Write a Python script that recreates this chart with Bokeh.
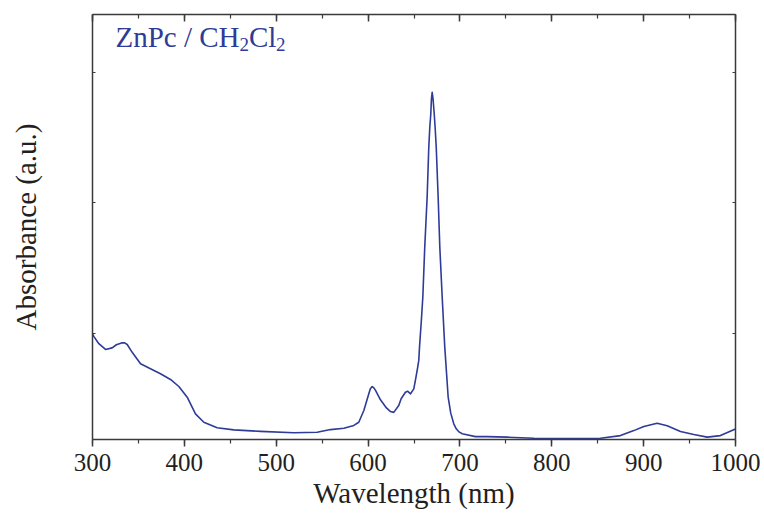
from bokeh.plotting import figure
from bokeh.models import (Range1d, LinearAxis, SingleIntervalTicker, FixedTicker,
                          Label, CustomJSTickFormatter, ColumnDataSource)
from bokeh.embed import file_html
from bokeh.resources import INLINE

# --- data ---
wavelength_nm = [297.1, 301.4, 306.9, 314.2, 321.4, 326.0, 331.6, 335.0, 337.8, 343.2,
                 352.3, 363.1, 374.0, 384.9, 394.0, 403.1, 412.1, 421.2, 435.7, 453.8,
                 482.9, 519.1, 544.6, 559.1, 573.6, 584.5, 589.9, 595.4, 600.8, 602.5,
                 604.5, 606.3, 608.1, 613.5, 620.0, 624.4, 628.0, 633.4, 636.0, 640.7,
                 643.0, 646.2, 649.8, 652.0, 654.0, 655.2, 656.0, 658.0, 659.6, 661.7,
                 664.3, 666.1, 667.2, 668.3, 669.0, 669.8, 670.7, 672.0, 673.0, 674.2,
                 676.3, 678.1, 680.7, 683.5, 687.2, 690.0, 693.3, 696.0, 699.0, 702.5,
                 716.9, 729.7, 751.4, 780.4, 816.8, 853.0, 874.8, 889.3, 900.2, 914.7,
                 925.6, 940.1, 954.6, 969.2, 983.6, 998.1, 1000.0]
absorbance = [0.518, 0.489, 0.461, 0.439, 0.445, 0.457, 0.464, 0.464, 0.458, 0.428,
              0.384, 0.365, 0.346, 0.324, 0.297, 0.256, 0.192, 0.160, 0.139, 0.131,
              0.125, 0.120, 0.122, 0.132, 0.137, 0.148, 0.160, 0.205, 0.269, 0.288,
              0.297, 0.292, 0.282, 0.246, 0.215, 0.201, 0.198, 0.224, 0.250, 0.275,
              0.279, 0.269, 0.288, 0.330, 0.370, 0.397, 0.448, 0.550, 0.639, 0.831,
              1.022, 1.214, 1.290, 1.342, 1.400, 1.424, 1.400, 1.342, 1.290, 1.214,
              1.022, 0.831, 0.639, 0.448, 0.256, 0.195, 0.154, 0.135, 0.123, 0.116,
              0.105, 0.105, 0.103, 0.099, 0.098, 0.099, 0.109, 0.128, 0.144, 0.156,
              0.147, 0.125, 0.113, 0.103, 0.109, 0.131, 0.134]
x_ticks = [300, 400, 500, 600, 700, 800, 900, 1000]
y_ticks = [0.5, 1.0, 1.5]
x_label = "Wavelength (nm)"
y_label = "Absorbance (a.u.)"
title_parts = ["ZnPc / CH", "2", "Cl", "2"]

# --- style ---
SERIF = "Liberation Serif"
BLUE = "#2e3b97"
AXIS = "#3a3a3a"
TXT = "#231f20"

p = figure(width=764, height=516,
           x_range=Range1d(300, 1000), y_range=Range1d(0.094, 1.722),
           x_axis_type=None, y_axis_type=None,
           output_backend="svg", toolbar_location=None,
           min_border_left=92, min_border_right=29,
           min_border_top=14, min_border_bottom=77)
p.grid.visible = False
p.outline_line_color = None
p.background_fill_color = "white"
p.border_fill_color = "white"

src = ColumnDataSource(dict(x=wavelength_nm, y=absorbance))
p.line("x", "y", source=src, line_color=BLUE, line_width=1.6, line_join="round")

blank = CustomJSTickFormatter(code="return ''")

def xaxis(loc):
    ax = LinearAxis(ticker=SingleIntervalTicker(interval=100, num_minor_ticks=2))
    ax.axis_line_color = AXIS
    ax.axis_line_width = 1.5
    ax.major_tick_line_color = AXIS
    ax.minor_tick_line_color = AXIS
    ax.major_tick_line_width = 1.5
    ax.minor_tick_line_width = 1.2
    if loc == "below":
        ax.major_tick_out = 7
        ax.major_tick_in = 0
        ax.minor_tick_out = 4
        ax.minor_tick_in = 0
        ax.major_label_text_font = SERIF
        ax.major_label_text_font_size = "25px"
        ax.major_label_text_color = TXT
        ax.major_label_standoff = 7
        ax.axis_label = x_label
        ax.axis_label_text_font = SERIF
        ax.axis_label_text_font_size = "29px"
        ax.axis_label_text_font_style = "normal"
        ax.axis_label_text_color = TXT
        ax.axis_label_standoff = 3
    else:
        ax.major_tick_out = 0
        ax.major_tick_in = 7
        ax.minor_tick_out = 0
        ax.minor_tick_in = 4
        ax.formatter = blank
        ax.major_label_text_font_size = "0px"
        ax.major_label_standoff = 0
    p.add_layout(ax, loc)

def yaxis(loc):
    ax = LinearAxis(ticker=FixedTicker(ticks=y_ticks))
    ax.axis_line_color = AXIS
    ax.axis_line_width = 1.5
    ax.major_tick_line_color = AXIS
    ax.major_tick_line_width = 1.2
    ax.major_tick_out = 0
    ax.major_tick_in = 3
    ax.minor_tick_line_color = None
    ax.formatter = blank
    ax.major_label_text_font_size = "0px"
    ax.major_label_standoff = 0
    if loc == "left":
        ax.axis_label = y_label
        ax.axis_label_text_font = SERIF
        ax.axis_label_text_font_size = "29px"
        ax.axis_label_text_font_style = "normal"
        ax.axis_label_text_color = TXT
        ax.axis_label_standoff = 51
    p.add_layout(ax, loc)

xaxis("below")
xaxis("above")
yaxis("left")
yaxis("right")

# in-plot title with subscripts
title_x = [23, 147, 156.5, 183.5]
title_y = [403, 395, 403, 395]
title_sz = ["29px", "19px", "29px", "19px"]
for t, tx, ty, ts in zip(title_parts, title_x, title_y, title_sz):
    p.add_layout(Label(x=tx, y=ty, x_units="screen", y_units="screen", text=t,
                       text_font=SERIF, text_font_size=ts, text_color=BLUE,
                       text_align="left", text_baseline="alphabetic"))

open("out.html", "w").write(file_html(p, INLINE))
